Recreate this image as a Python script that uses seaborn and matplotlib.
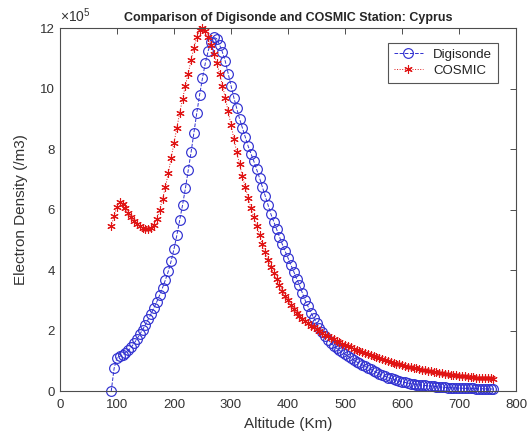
import numpy as np
import pandas as pd
import matplotlib
matplotlib.use("Agg")
import matplotlib.pyplot as plt
import seaborn as sns
from matplotlib.ticker import FuncFormatter

# ---- data (electron density in units of 1e5 /m3) ----
scale = 1e5
dig_alt = list(range(90, 761, 5))
dig_val = [0.0, 0.75, 1.1, 1.15, 1.2, 1.27, 1.35, 1.45, 1.58, 1.72,
           1.88, 2.03, 2.2, 2.38, 2.56, 2.76, 2.96, 3.18, 3.42, 3.68,
           3.96, 4.3, 4.7, 5.15, 5.65, 6.15, 6.7, 7.3, 7.9, 8.55,
           9.2, 9.8, 10.35, 10.85, 11.25, 11.55, 11.7, 11.65, 11.45, 11.2,
           10.9, 10.5, 10.1, 9.7, 9.35, 9.0, 8.7, 8.4, 8.1, 7.85,
           7.6, 7.33, 7.05, 6.75, 6.45, 6.15, 5.85, 5.6, 5.35, 5.1,
           4.85, 4.62, 4.4, 4.17, 3.95, 3.72, 3.5, 3.25, 3.0, 2.8,
           2.6, 2.42, 2.25, 2.1, 1.95, 1.82, 1.7, 1.6, 1.5, 1.42,
           1.35, 1.28, 1.22, 1.15, 1.09, 1.03, 0.97, 0.92, 0.87, 0.82,
           0.77, 0.72, 0.67, 0.62, 0.57, 0.53, 0.49, 0.45, 0.42, 0.39,
           0.36, 0.33, 0.31, 0.29, 0.27, 0.25, 0.24, 0.22, 0.21, 0.2,
           0.19, 0.18, 0.17, 0.16, 0.15, 0.14, 0.135, 0.13, 0.12, 0.115,
           0.11, 0.105, 0.1, 0.098, 0.095, 0.093, 0.09, 0.088, 0.085, 0.083,
           0.08, 0.078, 0.075, 0.073, 0.07]

cos_alt = list(range(90, 761, 5))
cos_val = [5.45, 5.8, 6.1, 6.25, 6.2, 6.05, 5.9, 5.75, 5.62, 5.52,
           5.45, 5.4, 5.36, 5.35, 5.4, 5.5, 5.7, 6.0, 6.35, 6.75,
           7.2, 7.7, 8.2, 8.7, 9.2, 9.65, 10.1, 10.5, 10.95, 11.35,
           11.7, 11.95, 12.0, 11.9, 11.7, 11.45, 11.15, 10.85, 10.5, 10.1,
           9.7, 9.25, 8.8, 8.35, 7.9, 7.5, 7.1, 6.75, 6.4, 6.05,
           5.75, 5.45, 5.15, 4.85, 4.6, 4.35, 4.1, 3.9, 3.7, 3.5,
           3.32, 3.15, 3.0, 2.86, 2.72, 2.6, 2.5, 2.4, 2.32, 2.24,
           2.17, 2.11, 2.05, 1.99, 1.93, 1.87, 1.82, 1.77, 1.72, 1.67,
           1.62, 1.57, 1.53, 1.49, 1.45, 1.41, 1.37, 1.34, 1.3, 1.27,
           1.23, 1.2, 1.16, 1.13, 1.1, 1.07, 1.03, 1.0, 0.97, 0.94,
           0.91, 0.89, 0.86, 0.84, 0.81, 0.79, 0.77, 0.75, 0.73, 0.71,
           0.69, 0.67, 0.65, 0.64, 0.62, 0.61, 0.59, 0.58, 0.56, 0.55,
           0.54, 0.52, 0.51, 0.5, 0.49, 0.48, 0.47, 0.46, 0.45, 0.45,
           0.44, 0.43, 0.42, 0.42, 0.41]

x_ticks = [0, 100, 200, 300, 400, 500, 600, 700, 800]
y_ticks = [0, 2, 4, 6, 8, 10, 12]

title = "Comparison of Digisonde and COSMIC Station: Cyprus"
xlabel = "Altitude (Km)"
ylabel = "Electron Density (/m3)"

# ---- style ----
sns.set_style("white")
plt.rcParams["font.family"] = ["Liberation Sans", "DejaVu Sans"]
plt.rcParams["mathtext.fontset"] = "custom"
plt.rcParams["mathtext.rm"] = "Liberation Sans"

fig = plt.figure(figsize=(5.3, 4.4), dpi=100)
ax = fig.add_axes([0.113, 0.111, 0.861, 0.825])

dig_df = pd.DataFrame({"alt": dig_alt, "val": np.array(dig_val) * scale})
cos_df = pd.DataFrame({"alt": cos_alt, "val": np.array(cos_val) * scale})

blue = "#3030d0"
red = "#e01414"
sns.lineplot(data=dig_df, x="alt", y="val", ax=ax, color=blue, linestyle="--",
             linewidth=0.7, marker="o", markersize=7, markerfacecolor="none",
             markeredgecolor=blue, markeredgewidth=0.85, label="Digisonde",
             sort=False, clip_on=False)
sns.lineplot(data=cos_df, x="alt", y="val", ax=ax, color=red, linestyle=":",
             linewidth=0.7, marker=(6, 2, 0), markersize=6,
             markeredgecolor=red, markeredgewidth=0.8, label="COSMIC",
             sort=False, clip_on=False)

ax.set_xlim(0, 800)
ax.set_ylim(0, 12 * scale)
ax.set_xticks(x_ticks)
ax.set_yticks([v * scale for v in y_ticks])
ax.yaxis.set_major_formatter(FuncFormatter(lambda v, p: f"{v / scale:.0f}"))
ax.text(0.0, 1.008, r"$\times10^{5}$", transform=ax.transAxes, fontsize=10,
        color="#333333", ha="left", va="bottom")

axcol = "#4d4d4d"
for s in ax.spines.values():
    s.set_color(axcol)
    s.set_linewidth(0.8)
ax.tick_params(direction="in", top=True, right=True, length=4, width=0.7,
               colors=axcol, labelcolor="#333333", labelsize=9.5)
ax.tick_params(axis="x", pad=6)

ax.set_title(title, fontsize=9, fontweight="bold", pad=5)
ax.set_xlabel(xlabel, fontsize=11, color="#333333", labelpad=4)
ax.set_ylabel(ylabel, fontsize=11, color="#333333", labelpad=9)

leg = ax.legend(loc="upper right", fontsize=9.5, frameon=True, fancybox=False,
                edgecolor="#555555", framealpha=1, borderpad=0.45,
                handlelength=2.2, labelspacing=0.3, bbox_to_anchor=(0.975, 0.978))
leg.get_frame().set_linewidth(0.8)
for t in leg.get_texts():
    t.set_color("#222222")

fig.savefig("out.png", dpi=100)
